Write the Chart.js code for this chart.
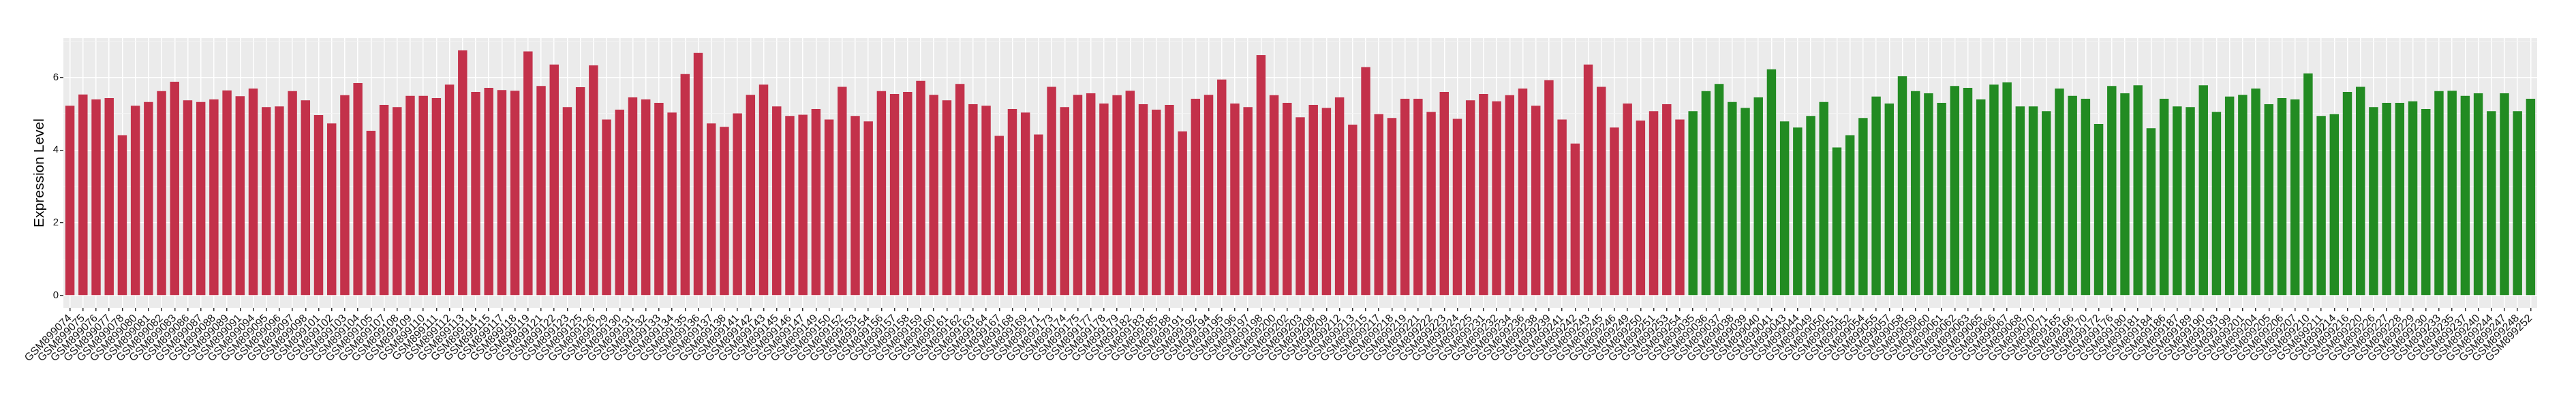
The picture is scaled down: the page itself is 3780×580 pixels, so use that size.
<!DOCTYPE html>
<html>
<head>
<meta charset="utf-8">
<script src="https://cdn.jsdelivr.net/npm/chart.js@4.4.1/dist/chart.umd.min.js"></script>
<style>
  html, body { margin: 0; padding: 0; background: #fff; }
</style>
</head>
<body>
<canvas id="myChart" width="3780" height="580"></canvas>
<script>
// first group (red)
const samplesA = ['GSM899074', 'GSM899075', 'GSM899076', 'GSM899077', 'GSM899078', 'GSM899080', 'GSM899081', 'GSM899082', 'GSM899083', 'GSM899086',
  'GSM899087', 'GSM899088', 'GSM899089', 'GSM899091', 'GSM899094', 'GSM899095', 'GSM899096', 'GSM899097', 'GSM899098', 'GSM899101',
  'GSM899102', 'GSM899103', 'GSM899104', 'GSM899105', 'GSM899107', 'GSM899108', 'GSM899109', 'GSM899110', 'GSM899111', 'GSM899112',
  'GSM899113', 'GSM899114', 'GSM899115', 'GSM899117', 'GSM899118', 'GSM899119', 'GSM899121', 'GSM899122', 'GSM899123', 'GSM899125',
  'GSM899126', 'GSM899129', 'GSM899130', 'GSM899131', 'GSM899132', 'GSM899133', 'GSM899134', 'GSM899135', 'GSM899136', 'GSM899137',
  'GSM899138', 'GSM899141', 'GSM899142', 'GSM899143', 'GSM899145', 'GSM899146', 'GSM899147', 'GSM899149', 'GSM899150', 'GSM899152',
  'GSM899153', 'GSM899154', 'GSM899156', 'GSM899157', 'GSM899158', 'GSM899159', 'GSM899160', 'GSM899161', 'GSM899162', 'GSM899163',
  'GSM899164', 'GSM899167', 'GSM899168', 'GSM899169', 'GSM899171', 'GSM899173', 'GSM899174', 'GSM899175', 'GSM899177', 'GSM899178',
  'GSM899179', 'GSM899182', 'GSM899183', 'GSM899185', 'GSM899188', 'GSM899191', 'GSM899192', 'GSM899194', 'GSM899195', 'GSM899196',
  'GSM899197', 'GSM899198', 'GSM899200', 'GSM899202', 'GSM899203', 'GSM899208', 'GSM899209', 'GSM899212', 'GSM899213', 'GSM899215',
  'GSM899217', 'GSM899218', 'GSM899219', 'GSM899221', 'GSM899222', 'GSM899223', 'GSM899224', 'GSM899225', 'GSM899231', 'GSM899232',
  'GSM899234', 'GSM899236', 'GSM899238', 'GSM899239', 'GSM899241', 'GSM899242', 'GSM899243', 'GSM899245', 'GSM899246', 'GSM899249',
  'GSM899250', 'GSM899251', 'GSM899253', 'GSM899254'];
const valuesA = [5.22, 5.53, 5.39, 5.43, 4.41, 5.22, 5.32, 5.62, 5.88, 5.37, 5.32, 5.39, 5.64, 5.48, 5.69, 5.18,
  5.20, 5.62, 5.37, 4.96, 4.73, 5.51, 5.84, 4.53, 5.24, 5.18, 5.49, 5.49, 5.43, 5.80, 6.74, 5.60, 5.71, 5.65, 5.63, 6.71, 5.76,
  6.35, 5.18, 5.73, 6.33, 4.84, 5.11, 5.45, 5.39, 5.30, 5.03, 6.09, 6.67, 4.73, 4.64, 5.01, 5.52, 5.80, 5.20, 4.94, 4.97, 5.13, 4.84,
  5.74, 4.94, 4.79, 5.62, 5.54, 5.60, 5.90, 5.52, 5.37, 5.82, 5.26, 5.22, 4.39, 5.13, 5.03, 4.43, 5.74, 5.18, 5.52, 5.56, 5.28, 5.51,
  5.63, 5.26, 5.11, 5.24, 4.51, 5.41, 5.52, 5.94, 5.28, 5.18, 6.61, 5.51, 5.30, 4.90, 5.24, 5.16, 5.45, 4.70, 6.28, 4.99, 4.88, 5.41,
  5.41, 5.05, 5.60, 4.86, 5.37, 5.54, 5.34, 5.51, 5.69, 5.22, 5.92, 4.84, 4.18, 6.35, 5.74, 4.62, 5.28, 4.81, 5.07, 5.26, 4.84];

// second group (green)
const samplesB = ['GSM899035', 'GSM899036', 'GSM899037', 'GSM899038', 'GSM899039', 'GSM899040', 'GSM899041', 'GSM899043', 'GSM899044', 'GSM899049',
  'GSM899050', 'GSM899051', 'GSM899052', 'GSM899054', 'GSM899055', 'GSM899057', 'GSM899058', 'GSM899059', 'GSM899060', 'GSM899061',
  'GSM899062', 'GSM899063', 'GSM899065', 'GSM899066', 'GSM899067', 'GSM899068', 'GSM899070', 'GSM899071', 'GSM899165', 'GSM899166',
  'GSM899170', 'GSM899172', 'GSM899176', 'GSM899180', 'GSM899181', 'GSM899184', 'GSM899186', 'GSM899187', 'GSM899189', 'GSM899190',
  'GSM899193', 'GSM899199', 'GSM899201', 'GSM899204', 'GSM899205', 'GSM899206', 'GSM899207', 'GSM899210', 'GSM899211', 'GSM899214',
  'GSM899216', 'GSM899220', 'GSM899226', 'GSM899227', 'GSM899228', 'GSM899229', 'GSM899230', 'GSM899233', 'GSM899235', 'GSM899237',
  'GSM899240', 'GSM899244', 'GSM899247', 'GSM899248', 'GSM899252'];
const valuesB = [5.07, 5.62, 5.82, 5.32, 5.16, 5.45, 6.22, 4.79, 4.62, 4.94, 5.32, 4.07, 4.41, 4.88, 5.47, 5.28, 6.03, 5.62, 5.56, 5.30, 5.76, 5.71,
  5.39, 5.80, 5.86, 5.20, 5.20, 5.07, 5.69, 5.49, 5.41, 4.72, 5.76, 5.56, 5.78, 4.60, 5.41, 5.20, 5.18, 5.78, 5.05, 5.47, 5.52, 5.69,
  5.26, 5.43, 5.39, 6.11, 4.94, 4.99, 5.60, 5.74, 5.18, 5.30, 5.30, 5.34, 5.13, 5.62, 5.63, 5.49, 5.56, 5.07, 5.56, 5.07, 5.41];

const yTicks = [0, 1, 2, 3, 4, 5, 6, 7];   // odd ones are minor grid lines only

const labels = samplesA.concat(samplesB);
const values = valuesA.concat(valuesB);
const colors = labels.map((l, i) => i < samplesA.length ? '#C3314A' : '#228B22');

const maxVal = Math.max(...values);
const pad = maxVal * 0.05;

// grey ggplot-like panel behind the grid
const panelBg = {
  id: 'panelBg',
  beforeDraw(chart) {
    const { ctx, chartArea: a } = chart;
    ctx.save();
    ctx.fillStyle = '#EBEBEB';
    ctx.fillRect(a.left, a.top, a.right - a.left, a.bottom - a.top);
    ctx.restore();
  }
};

const ctx = document.getElementById('myChart').getContext('2d');

const chart = new Chart(ctx, {
  type: 'bar',
  data: {
    labels: labels,
    datasets: [{
      data: values,
      backgroundColor: colors,
      barPercentage: 0.7,
      categoryPercentage: 1.0
    }]
  },
  options: {
    responsive: false,
    animation: false,
    layout: { padding: { top: 56, right: 57, left: 46, bottom: 0 } },
    plugins: {
      legend: { display: false },
      tooltip: { enabled: false }
    },
    scales: {
      x: {
        offset: true,
        afterFit(axis) { axis.height = 128; },
        border: { display: false },
        grid: {
          offset: false,
          color: '#FFFFFF',
          lineWidth: 1.5,
          tickColor: '#333333',
          tickLength: 5
        },
        ticks: {
          autoSkip: false,
          minRotation: 45,
          maxRotation: 45,
          padding: 1,
          color: '#111111',
          font: { family: "'Liberation Sans', Arial, sans-serif", size: 16 }
        }
      },
      y: {
        min: -pad,
        max: maxVal + pad,
        afterBuildTicks(axis) { axis.ticks = yTicks.map(v => ({ value: v })); },
        afterFit(axis) { axis.width = 47; },
        border: { display: false },
        grid: {
          color: (c) => c.tick && c.tick.value % 2 === 0 ? '#FFFFFF' : '#F5F5F5',
          lineWidth: (c) => c.tick && c.tick.value % 2 === 0 ? 1.5 : 0.8,
          tickColor: (c) => c.tick && c.tick.value % 2 === 0 ? '#333333' : 'rgba(0,0,0,0)',
          tickLength: 5
        },
        ticks: {
          padding: 2,
          color: '#111111',
          font: { family: "'Liberation Sans', Arial, sans-serif", size: 15 },
          callback: (v) => v % 2 === 0 ? v : ''
        },
        title: {
          display: true,
          text: 'Expression Level',
          color: '#000000',
          padding: { top: 0, bottom: 4 },
          font: { family: "'Liberation Sans', Arial, sans-serif", size: 21 }
        }
      }
    }
  },
  plugins: [panelBg]
});
</script>
</body>
</html>
